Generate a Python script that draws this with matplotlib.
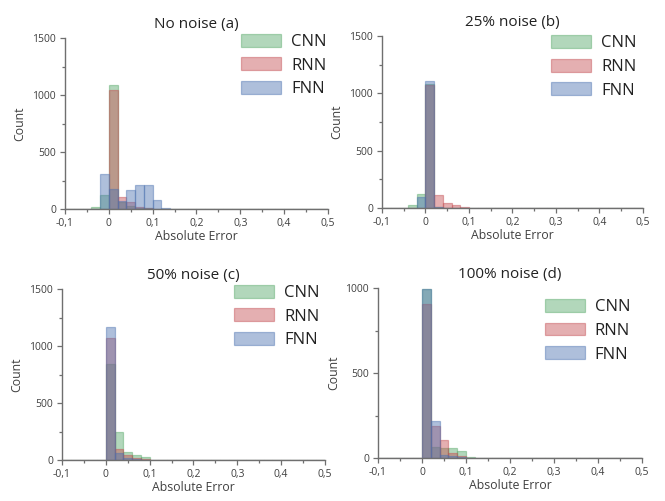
import numpy as np
import matplotlib
matplotlib.use("Agg")
import matplotlib.pyplot as plt
from matplotlib.ticker import MultipleLocator

plt.rcParams["font.family"] = ["Open Sans", "DejaVu Sans"]

# histogram bins: width 0.02 from -0.1 to 0.5 (30 bins)
BIN_LO = -0.1
BIN_W = 0.02
N_BINS = 30

MODELS = ["CNN", "RNN", "FNN"]
COLORS = {"CNN": "#55a868", "RNN": "#c44e52", "FNN": "#4c72b0"}

TITLES = ["No noise (a)", "25% noise (b)", "50% noise (c)", "100% noise (d)"]
YMAX = [1500, 1500, 1500, 1000]
XTICK_LABELS = ["-0,1", "0", "0,1", "0,2", "0,3", "0,4", "0,5"]

# counts per bin
a_cnn = [4, 4, 4, 20, 125, 1085, 60, 25, 12, 6, 3, 2, 1, 1, 0, 0, 0, 0, 0, 0, 0, 0, 0, 0, 0, 0, 0, 0, 0, 0]
a_rnn = [0, 0, 0, 0, 0, 1040, 105, 62, 20, 10, 4, 2, 2, 1, 1, 1, 1, 2, 1, 0, 0, 0, 0, 0, 0, 0, 0, 0, 0, 0]
a_fnn = [0, 0, 0, 0, 305, 172, 72, 165, 215, 215, 78, 6, 3, 2, 2, 1, 1, 1, 0, 0, 0, 0, 0, 0, 0, 0, 0, 0, 0, 0]

b_cnn = [3, 3, 3, 25, 125, 1085, 8, 3, 1, 1, 0, 0, 0, 0, 0, 0, 0, 0, 0, 0, 0, 0, 0, 0, 0, 0, 0, 0, 0, 0]
b_rnn = [0, 0, 0, 0, 0, 1070, 110, 48, 22, 10, 4, 3, 2, 2, 2, 2, 2, 2, 0, 0, 0, 0, 0, 0, 0, 0, 0, 0, 0, 0]
b_fnn = [0, 0, 0, 0, 100, 1112, 5, 2, 1, 0, 0, 0, 0, 0, 0, 0, 0, 0, 0, 0, 0, 0, 0, 0, 0, 0, 0, 0, 0, 0]

c_cnn = [0, 0, 0, 0, 0, 840, 248, 73, 44, 29, 3, 2, 1, 0, 0, 0, 0, 0, 0, 0, 0, 0, 0, 0, 0, 0, 0, 0, 0, 0]
c_rnn = [0, 0, 0, 0, 0, 1068, 100, 44, 20, 8, 3, 2, 1, 1, 1, 1, 1, 1, 0, 0, 0, 0, 0, 0, 0, 0, 0, 0, 0, 0]
c_fnn = [0, 0, 0, 0, 0, 1165, 62, 18, 6, 2, 1, 0, 0, 0, 0, 0, 0, 0, 0, 0, 0, 0, 0, 0, 0, 0, 0, 0, 0, 0]

d_cnn = [0, 0, 0, 0, 0, 995, 65, 60, 57, 41, 8, 2, 1, 0, 0, 0, 0, 0, 0, 0, 0, 0, 0, 0, 0, 0, 0, 0, 0, 0]
d_rnn = [0, 0, 0, 0, 0, 905, 190, 106, 30, 10, 3, 2, 1, 1, 1, 1, 1, 0, 0, 0, 0, 0, 0, 0, 0, 0, 0, 0, 0, 0]
d_fnn = [0, 0, 0, 0, 0, 992, 218, 20, 12, 4, 1, 0, 0, 0, 0, 0, 0, 0, 0, 0, 0, 0, 0, 0, 0, 0, 0, 0, 0, 0]

PANELS = [
    {"CNN": a_cnn, "RNN": a_rnn, "FNN": a_fnn},
    {"CNN": b_cnn, "RNN": b_rnn, "FNN": b_fnn},
    {"CNN": c_cnn, "RNN": c_rnn, "FNN": c_fnn},
    {"CNN": d_cnn, "RNN": d_rnn, "FNN": d_fnn},
]

# layout (figure fractions) and legend anchors (axes fractions)
RECTS = [
    [0.0977, 0.5828, 0.3955, 0.3413],
    [0.5744, 0.5848, 0.3925, 0.3433],
    [0.0932, 0.0818, 0.3955, 0.3413],
    [0.5684, 0.0858, 0.3970, 0.3393],
]
LEG_ANCHOR = [(0.995, 1.025), (0.975, 1.005), (0.98, 1.025), (0.955, 0.935)]

edges = BIN_LO + BIN_W * np.arange(N_BINS + 1)

fig = plt.figure(figsize=(6.65, 5.01), dpi=100)
for i, counts in enumerate(PANELS):
    ax = fig.add_axes(RECTS[i])
    for m in MODELS:
        ax.hist(edges[:-1] + BIN_W / 2, bins=edges, weights=counts[m],
                color=COLORS[m], alpha=0.45, edgecolor=COLORS[m], linewidth=0.9,
                label=m)
    ax.set_xlim(-0.1, 0.5)
    ax.set_ylim(0, YMAX[i])
    ax.set_xticks(np.linspace(-0.1, 0.5, 7))
    ax.set_xticklabels(XTICK_LABELS)
    ax.xaxis.set_minor_locator(MultipleLocator(0.05))
    ax.yaxis.set_major_locator(MultipleLocator(500))
    ax.yaxis.set_minor_locator(MultipleLocator(250))
    for s in ["top", "right"]:
        ax.spines[s].set_visible(False)
    for s in ["left", "bottom"]:
        ax.spines[s].set_color("#6f6f6f")
        ax.spines[s].set_linewidth(1.0)
    ax.tick_params(which="major", length=3.5, width=0.9, color="#6f6f6f",
                   labelsize=7.5, labelcolor="#404040", pad=3)
    ax.tick_params(which="minor", length=2.5, width=0.9, color="#6f6f6f")
    ax.set_xlabel("Absolute Error", fontsize=8.8, color="#404040", labelpad=1)
    ax.set_ylabel("Count", fontsize=8.8, color="#404040", labelpad=4)
    ax.set_title(TITLES[i], fontsize=11, color="#222222", pad=7)
    ax.legend(loc="upper right", bbox_to_anchor=LEG_ANCHOR[i], frameon=False,
              fontsize=12, handlelength=2.4, handleheight=0.8, labelspacing=0.45,
              handletextpad=0.6, borderpad=0, borderaxespad=0, labelcolor="#222222")

fig.savefig("out.png", dpi=100)
